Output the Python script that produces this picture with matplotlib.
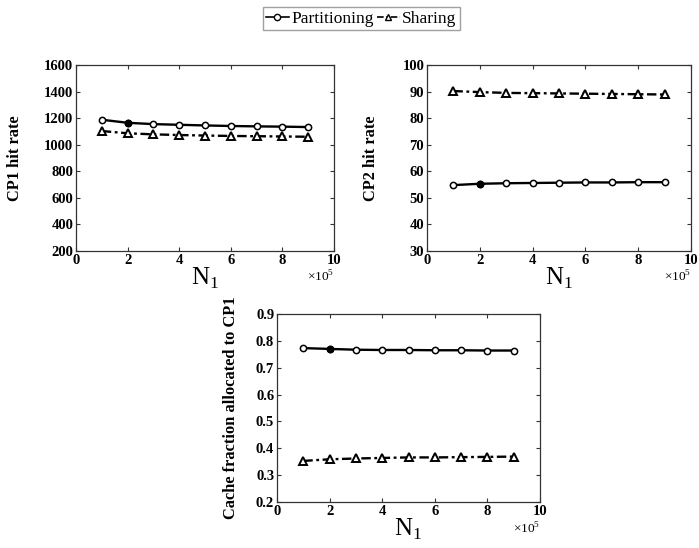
import matplotlib.pyplot as plt
from matplotlib.lines import Line2D
from matplotlib.ticker import FuncFormatter

plt.rcParams['font.family'] = ['Liberation Serif', 'DejaVu Serif']

# data
N1 = [1e5, 2e5, 3e5, 4e5, 5e5, 6e5, 7e5, 8e5, 9e5]
cp1_part = [1188, 1165, 1155, 1150, 1145, 1141, 1138, 1136, 1133]
cp1_share = [1103, 1086, 1078, 1073, 1069, 1066, 1064, 1062, 1060]
cp2_part = [54.8, 55.3, 55.5, 55.6, 55.7, 55.8, 55.8, 55.9, 55.9]
cp2_share = [90.2, 89.8, 89.5, 89.4, 89.3, 89.2, 89.1, 89.0, 88.9]
frac_part = [0.773, 0.770, 0.767, 0.766, 0.766, 0.765, 0.765, 0.764, 0.764]
frac_share = [0.353, 0.359, 0.362, 0.364, 0.366, 0.366, 0.367, 0.368, 0.369]

W, H = 699, 548
fig = plt.figure(figsize=(W / 100, H / 100), dpi=100)

DASHDOT = (0, (4, 1.5, 1.2, 1.5))


def box(l, t, r, b):
    return [l / W, 1 - b / H, (r - l) / W, (b - t) / H]


def panel(rect, part, share, ylim, yticks, ylabel, yfmt, lpad):
    ax = fig.add_axes(rect)
    ax.plot(N1, part, '-', color='black', lw=1.7, marker='o', ms=4.5,
            mfc='white', mec='black', mew=1.1)
    ax.plot(N1[1], part[1], 'o', color='black', ms=4.5)
    ax.plot(N1, share, ls=DASHDOT, color='black', lw=1.7, marker='^', ms=5.5,
            mfc='white', mec='black', mew=1.4)
    ax.set_xlim(0, 1e6)
    ax.set_ylim(*ylim)
    ax.set_xticks([0, 2e5, 4e5, 6e5, 8e5, 1e6])
    ax.set_yticks(yticks)
    ax.xaxis.set_major_formatter(FuncFormatter(lambda v, p: '%g' % (v / 1e5)))
    ax.yaxis.set_major_formatter(FuncFormatter(lambda v, p: yfmt % v))
    ax.tick_params(direction='in', top=True, right=True, length=3,
                   labelsize=10.5, pad=2, color='#333333')
    for lab in ax.get_xticklabels() + ax.get_yticklabels():
        lab.set_fontweight('bold')
    for s in ax.spines.values():
        s.set_linewidth(0.9)
        s.set_edgecolor('#333333')
    ax.set_ylabel(ylabel, fontsize=11.8, fontweight='bold', labelpad=lpad)
    ax.set_xlabel('N$_\\mathregular{1}$', fontsize=18, labelpad=-1)
    ax.text(1.0, -0.1, '×10$^\\mathregular{5}$', transform=ax.transAxes,
            ha='right', va='top', fontsize=9.5)
    return ax


panel(box(76, 65, 334, 251), cp1_part, cp1_share, (200, 1600),
      [200, 400, 600, 800, 1000, 1200, 1400, 1600], 'CP1 hit rate', '%d', 15)
panel(box(427, 65, 691, 251), cp2_part, cp2_share, (30, 100),
      [30, 40, 50, 60, 70, 80, 90, 100], 'CP2 hit rate', '%d', 17)
panel(box(277, 314, 540, 502), frac_part, frac_share, (0.2, 0.9),
      [0.2, 0.3, 0.4, 0.5, 0.6, 0.7, 0.8, 0.9],
      'Cache fraction allocated to CP1', '%.1f', 12)

handles = [
    Line2D([], [], ls='-', color='black', lw=1.2, marker='o', ms=4.5,
           mfc='white', mec='black'),
    Line2D([], [], ls=DASHDOT, color='black', lw=1.2, marker='^', ms=5,
           mfc='white', mec='black'),
]
fig.legend(handles, ['Partitioning', 'Sharing'], loc='upper center',
           bbox_to_anchor=(0.517, 0.987), ncol=2, fontsize=12.5,
           frameon=True, fancybox=False, edgecolor='#888888',
           handlelength=1.3, handletextpad=0.15, columnspacing=0.2,
           borderpad=0.2, borderaxespad=0)

fig.savefig('out.png', dpi=100)
